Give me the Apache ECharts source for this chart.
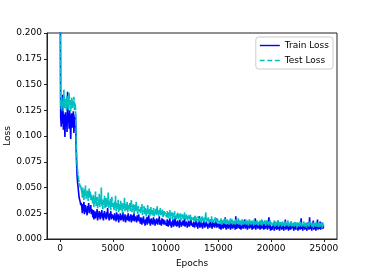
<!DOCTYPE html>
<html>
<head>
<meta charset="utf-8">
<script src="https://cdn.jsdelivr.net/npm/echarts@6/dist/echarts.min.js"></script>
<style>
html,body{margin:0;padding:0;background:#fff;}
#chart{width:374px;height:273px;}
</style>
</head>
<body>
<div id="chart"></div>
<script>
// sampling step between recorded epochs
const epochStep = 50;
const xTicks = [0, 5000, 10000, 15000, 20000, 25000];
const yTicks = [0, 0.025, 0.05, 0.075, 0.1, 0.125, 0.15, 0.175, 0.2];

const trainLoss = [
0.26,
0.118,0.109,0.124,0.112,0.140,0.106,0.121,0.115,0.099,0.123,0.110,0.119,0.104,0.143,0.113,0.120,0.107,0.125,0.111,0.097,0.118,0.122,0.108,0.116,0.124,0.103,0.119,0.112,0.121,
0.095,0.075,0.062,0.055,0.050,0.045,0.040,0.038,0.036,0.033,0.035,
0.031,0.025,0.034,0.027,0.036,0.024,0.030,0.033,0.026,0.029,0.023,0.032,0.028,0.035,0.025,0.030,0.027,0.033,0.024,0.029,
0.026,0.021,0.028,0.019,0.024,0.027,0.020,0.025,0.022,0.029,
0.018,0.024,0.021,0.027,0.023,0.019,0.026,0.022,0.028,0.020,
0.025,0.018,0.023,0.027,0.021,0.024,0.019,0.026,0.022,0.030,
0.020,0.023,0.018,0.025,0.021,0.027,0.019,0.024,0.022,0.020,
0.023,0.018,0.025,0.020,0.022,0.017,0.026,0.019,0.021,0.024,
0.016,0.022,0.020,0.025,0.018,0.023,0.019,0.021,0.026,0.017,
0.022,0.020,0.024,0.016,0.021,0.019,0.023,0.018,0.025,0.020,
0.017,0.022,0.019,0.024,0.016,0.021,0.023,0.018,0.020,0.025,
0.017,0.022,0.019,0.021,0.016,0.023,0.018,0.020,0.024,0.017,
0.019,0.015,0.021,0.017,0.014,0.020,0.016,0.022,0.015,0.018,
0.013,0.019,0.016,0.021,0.014,0.018,0.017,0.023,0.015,0.019,
0.013,0.017,0.020,0.015,0.018,0.014,0.021,0.016,0.019,0.013,
0.018,0.015,0.020,0.016,0.014,0.019,0.017,0.022,0.014,0.018,
0.016,0.013,0.020,0.015,0.017,0.019,0.014,0.018,0.016,0.015,
0.017,0.013,0.019,0.015,0.012,0.018,0.014,0.020,0.013,0.016,
0.011,0.017,0.015,0.019,0.012,0.016,0.014,0.021,0.013,0.017,
0.012,0.015,0.018,0.013,0.016,0.011,0.019,0.014,0.017,0.012,
0.016,0.014,0.018,0.013,0.015,0.020,0.012,0.016,0.014,0.017,
0.011,0.015,0.013,0.018,0.012,0.016,0.014,0.019,0.013,0.015,
0.015,0.012,0.017,0.013,0.011,0.016,0.014,0.019,0.012,0.015,
0.010,0.016,0.013,0.022,0.011,0.014,0.017,0.012,0.015,0.010,
0.016,0.013,0.018,0.011,0.014,0.012,0.017,0.013,0.015,0.010,
0.014,0.012,0.016,0.011,0.019,0.013,0.015,0.010,0.014,0.017,
0.012,0.015,0.011,0.016,0.013,0.020,0.011,0.014,0.012,0.015,
0.013,0.010,0.015,0.012,0.009,0.014,0.011,0.017,0.010,0.013,
0.016,0.011,0.021,0.012,0.009,0.014,0.011,0.015,0.010,0.013,
0.012,0.016,0.009,0.014,0.011,0.018,0.010,0.013,0.015,0.011,
0.014,0.009,0.022,0.012,0.010,0.015,0.011,0.013,0.016,0.010,
0.012,0.014,0.009,0.017,0.011,0.013,0.010,0.015,0.012,0.019,
0.010,0.013,0.011,0.016,0.009,0.014,0.012,0.015,0.010,0.013,
0.017,0.011,0.014,0.009,0.012,0.016,0.010,0.013,0.011,0.020,
0.009,0.014,0.012,0.015,0.010,0.013,0.011,0.016,0.009,0.012,
0.014,0.010,0.018,0.011,0.013,0.009,0.015,0.012,0.010,0.014,
0.011,0.016,0.009,0.013,0.012,0.021,0.010,0.014,0.008,0.012,
0.012,0.009,0.014,0.011,0.016,0.008,0.013,0.010,0.015,0.011,
0.009,0.013,0.018,0.010,0.012,0.008,0.014,0.011,0.016,0.009,
0.012,0.010,0.015,0.008,0.013,0.011,0.019,0.009,0.012,0.014,
0.010,0.013,0.008,0.015,0.011,0.012,0.009,0.017,0.010,0.013,
0.011,0.014,0.008,0.012,0.010,0.016,0.009,0.013,0.011,0.015,
0.008,0.012,0.010,0.014,0.009,0.013,0.020,0.010,0.012,0.008,
0.014,0.011,0.013,0.009,0.015,0.010,0.012,0.008,0.016,0.011,
0.013,0.009,0.021,0.010,0.012,0.014,0.008,0.013,0.011,0.018,
0.009,0.012,0.010,0.015,0.008,0.013,0.011,0.019,0.009,0.014,
0.010,0.012,0.017,0.009,0.013,0.011,0.016,0.010,0.012,0.011
];

const testLoss = [
0.26,
0.131,0.126,0.137,0.129,0.134,0.124,0.145,0.130,0.127,0.136,0.132,0.125,0.139,0.128,0.133,0.126,0.142,0.130,0.135,0.124,0.131,0.137,0.127,0.134,0.129,0.138,0.125,0.132,0.128,
0.105,0.085,0.072,0.066,0.062,0.058,0.055,0.053,0.050,0.052,0.048,
0.046,0.040,0.050,0.043,0.038,0.048,0.042,0.052,0.039,0.045,0.041,0.047,0.037,0.044,0.049,0.040,0.046,0.038,0.043,0.041,
0.040,0.034,0.043,0.031,0.038,0.035,0.046,0.032,0.037,0.041,
0.030,0.036,0.033,0.044,0.031,0.039,0.034,0.050,0.032,0.036,
0.029,0.038,0.034,0.042,0.030,0.035,0.040,0.031,0.037,0.033,
0.045,0.030,0.036,0.032,0.039,0.028,0.034,0.041,0.031,0.035,
0.033,0.028,0.036,0.030,0.042,0.027,0.032,0.035,0.029,0.038,
0.026,0.031,0.034,0.028,0.037,0.030,0.033,0.025,0.035,0.029,
0.032,0.040,0.027,0.031,0.034,0.028,0.036,0.026,0.030,0.033,
0.029,0.035,0.027,0.032,0.038,0.026,0.031,0.029,0.034,0.025,
0.030,0.033,0.027,0.036,0.028,0.031,0.024,0.032,0.029,0.027,
0.029,0.025,0.031,0.027,0.034,0.023,0.028,0.026,0.032,0.024,
0.027,0.030,0.022,0.028,0.025,0.033,0.024,0.027,0.029,0.022,
0.026,0.031,0.024,0.028,0.023,0.027,0.030,0.022,0.026,0.025,
0.029,0.023,0.027,0.032,0.024,0.026,0.022,0.028,0.025,0.030,
0.023,0.026,0.024,0.029,0.021,0.025,0.027,0.023,0.026,0.024,
0.025,0.021,0.027,0.023,0.020,0.026,0.022,0.028,0.020,0.024,
0.022,0.026,0.019,0.023,0.025,0.021,0.027,0.020,0.023,0.019,
0.024,0.021,0.026,0.019,0.022,0.024,0.020,0.025,0.018,0.022,
0.021,0.024,0.019,0.023,0.020,0.026,0.019,0.022,0.020,0.024,
0.018,0.022,0.020,0.023,0.019,0.021,0.024,0.018,0.021,0.020,
0.022,0.019,0.021,0.017,0.020,0.023,0.018,0.021,0.017,0.020,
0.019,0.022,0.017,0.020,0.018,0.021,0.016,0.019,0.022,0.017,
0.020,0.018,0.021,0.016,0.019,0.026,0.018,0.020,0.017,0.019,
0.021,0.016,0.019,0.018,0.020,0.017,0.022,0.016,0.019,0.018,
0.020,0.016,0.018,0.021,0.017,0.019,0.016,0.020,0.018,0.017,
0.019,0.016,0.018,0.015,0.020,0.017,0.014,0.018,0.016,0.019,
0.015,0.017,0.020,0.014,0.018,0.016,0.019,0.015,0.017,0.014,
0.018,0.016,0.020,0.015,0.017,0.019,0.014,0.016,0.018,0.015,
0.017,0.014,0.019,0.016,0.018,0.015,0.017,0.020,0.014,0.016,
0.018,0.015,0.017,0.013,0.019,0.016,0.018,0.014,0.017,0.015,
0.016,0.019,0.014,0.017,0.015,0.018,0.013,0.016,0.019,0.015,
0.017,0.014,0.016,0.018,0.015,0.017,0.013,0.019,0.016,0.014,
0.017,0.015,0.018,0.014,0.016,0.013,0.017,0.015,0.018,0.014,
0.016,0.019,0.013,0.017,0.015,0.016,0.014,0.018,0.015,0.013,
0.016,0.018,0.014,0.017,0.015,0.013,0.016,0.018,0.014,0.016,
0.015,0.017,0.013,0.016,0.014,0.018,0.012,0.015,0.017,0.013,
0.016,0.014,0.018,0.012,0.015,0.013,0.017,0.014,0.016,0.012,
0.015,0.017,0.013,0.016,0.014,0.012,0.017,0.015,0.013,0.016,
0.014,0.018,0.012,0.015,0.013,0.016,0.014,0.017,0.012,0.015,
0.013,0.016,0.014,0.012,0.017,0.015,0.013,0.016,0.011,0.014,
0.016,0.013,0.015,0.012,0.017,0.014,0.016,0.012,0.015,0.013,
0.014,0.017,0.012,0.015,0.013,0.016,0.011,0.014,0.016,0.013,
0.015,0.012,0.017,0.014,0.013,0.016,0.012,0.015,0.014,0.011,
0.016,0.013,0.015,0.012,0.014,0.017,0.012,0.015,0.013,0.011,
0.014,0.016,0.012,0.015,0.013,0.014,0.011,0.016,0.013,0.014
];

const seriesNames = ['Train Loss', 'Test Loss'];

function pairs(arr) {
  return arr.map((v, i) => [i * epochStep, v]);
}

const font = 'DejaVu Sans';
const solidIcon = 'path://M0,0H20V1.4H0Z';
const dashIcon = 'path://M0,0H4.5V1.4H0Z M7,0H11.5V1.4H7Z M14,0H18.5V1.4H14Z';

const chart = echarts.init(document.getElementById('chart'), null, {renderer: 'canvas'});
chart.setOption({
  animation: false,
  backgroundColor: '#fff',
  textStyle: {fontFamily: font},
  grid: {left: 47, right: 37, top: 33, bottom: 34, containLabel: false, outerBoundsMode: 'none',
         show: true, borderColor: '#222', borderWidth: 1, backgroundColor: 'transparent'},
  legend: {
    orient: 'vertical', right: 41, top: 37,
    data: [{name: seriesNames[0], icon: solidIcon}, {name: seriesNames[1], icon: dashIcon}],
    itemWidth: 20, itemHeight: 2, itemGap: 6,
    borderColor: '#ccc', borderWidth: 1, borderRadius: 3,
    padding: [4, 4, 4, 4],
    backgroundColor: 'rgba(255,255,255,0.8)',
    textStyle: {fontFamily: font, fontSize: 9, color: '#000'}
  },
  xAxis: {
    type: 'value', min: -1250, max: 26250,
    name: 'Epochs', nameLocation: 'middle', nameGap: 20, nameMoveOverlap: false,
    nameTextStyle: {fontFamily: font, fontSize: 9, color: '#000'},
    axisLine: {show: true, onZero: false, lineStyle: {color: '#222', width: 1}},
    axisTick: {show: true, length: 3, customValues: xTicks, lineStyle: {color: '#222'}},
    axisLabel: {customValues: xTicks, fontFamily: font, fontSize: 9, color: '#000', margin: 5,
                formatter: v => String(v)},
    splitLine: {show: false}
  },
  yAxis: {
    type: 'value', min: 0, max: 0.2, interval: 0.025,
    name: 'Loss', nameLocation: 'middle', nameGap: 35, nameRotate: 90, nameMoveOverlap: false,
    nameTextStyle: {fontFamily: font, fontSize: 9, color: '#000'},
    axisLine: {show: true, onZero: false, lineStyle: {color: '#222', width: 1}},
    axisTick: {show: true, length: 3, lineStyle: {color: '#222'}},
    axisLabel: {fontFamily: font, fontSize: 9, color: '#000', margin: 5, formatter: v => v.toFixed(3)},
    splitLine: {show: false}
  },
  series: [
    {name: seriesNames[0], type: 'line', data: pairs(trainLoss), symbol: 'none', clip: true,
     color: '#0000ff', lineStyle: {color: '#0000ff', width: 1.6}},
    {name: seriesNames[1], type: 'line', data: pairs(testLoss), symbol: 'none', clip: true,
     color: '#00bfbf', lineStyle: {color: '#00bfbf', width: 1.6, type: [7, 1]}}
  ]
});
</script>
</body>
</html>
